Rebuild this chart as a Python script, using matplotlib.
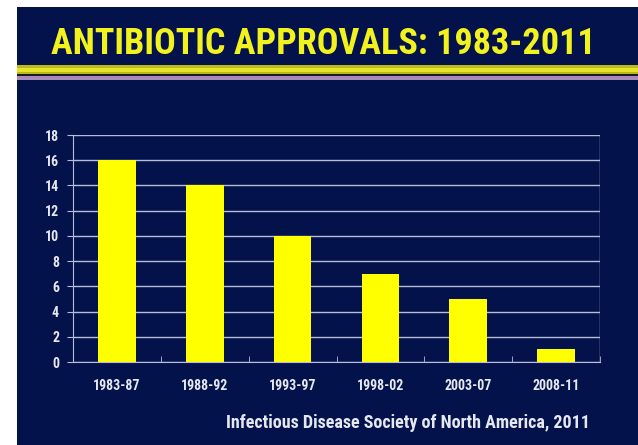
import numpy as np
import matplotlib.pyplot as plt
from matplotlib.patches import Rectangle
from matplotlib import font_manager

periods = ['1983-87', '1988-92', '1993-97', '1998-02', '2003-07', '2008-11']
approvals = [16, 14, 10, 7, 5, 1]
y_ticks = [0, 2, 4, 6, 8, 10, 12, 14, 16, 18]

BG = '#03124a'
GRID = '#b8bcd8'
TEXT = '#e6e8f0'

# pick a bold narrow font if one is around, else plain Liberation Sans
bold_names = {f.name for f in font_manager.fontManager.ttflist if f.weight in (700, 'bold')}
narrow = 'Liberation Sans'
for cand in ['Liberation Sans Narrow', 'Arial Narrow', 'Roboto Condensed', 'Open Sans Condensed',
             'Archivo Narrow', 'Barlow Condensed']:
    if cand in bold_names:
        narrow = cand
        break
is_narrow = narrow != 'Liberation Sans'

fig = plt.figure(figsize=(6.38, 4.45), dpi=100)
fig.patch.set_facecolor('white')
# dark slide background with white margin left/top
fig.patches.append(Rectangle((17 / 638, 0), 1, 1 - 7 / 445, transform=fig.transFigure,
                             facecolor=BG, edgecolor='none', zorder=0))
# yellow stripe and purple line under the title
fig.patches.append(Rectangle((17 / 638, 1 - 74 / 445), 1, 9 / 445, transform=fig.transFigure,
                             facecolor='#bdb91c', edgecolor='none', zorder=1))
fig.patches.append(Rectangle((17 / 638, 1 - 72 / 445), 1, 4 / 445, transform=fig.transFigure,
                             facecolor='#e4e42c', edgecolor='none', zorder=1))
fig.patches.append(Rectangle((17 / 638, 1 - 76 / 445), 1, 2 / 445, transform=fig.transFigure,
                             facecolor='#1a1a20', edgecolor='none', zorder=1))
fig.patches.append(Rectangle((17 / 638, 1 - 80 / 445), 1, 4 / 445, transform=fig.transFigure,
                             facecolor='#a98ab8', edgecolor='none', zorder=1))

fig.text(0.507, 1 - 44 / 445, 'ANTIBIOTIC APPROVALS: 1983-2011', ha='center', va='center',
         color='#f2f21e', fontsize=26 if is_narrow else 23, fontweight='bold', family=narrow)

ax = fig.add_axes([73 / 638, 83 / 445, 527 / 638, 227 / 445])
ax.set_zorder(5)
ax.set_facecolor(BG)
x = np.arange(len(periods))
ax.bar(x, approvals, width=0.43, color='#ffff00', zorder=3)
ax.set_xlim(-0.5, len(periods) - 0.5)
ax.set_ylim(0, 18)
ax.set_yticks(y_ticks)
ax.set_xticks(x)
ax.set_xticklabels(periods)
ax.set_xticks(np.arange(len(periods) + 1) - 0.5, minor=True)
ax.tick_params(axis='x', which='major', length=0, pad=12)
ax.tick_params(axis='x', which='minor', length=4, color=GRID, direction='in')
ax.tick_params(axis='y', length=4, color=GRID, pad=6)
for lab in ax.get_xticklabels() + ax.get_yticklabels():
    lab.set_color(TEXT)
    lab.set_fontsize(10 if is_narrow else 9)
    lab.set_fontweight('bold')
    lab.set_family(narrow)
ax.grid(axis='y', color=GRID, linewidth=1, zorder=1)
ax.spines['top'].set_visible(False)
ax.spines['right'].set_visible(False)
for side in ['left', 'bottom']:
    ax.spines[side].set_color(GRID)
ax.axvline(len(periods) - 0.5, color=GRID, linewidth=1, zorder=2)

fig.text(590 / 638, 1 - 423 / 445, 'Infectious Disease Society of North America, 2011',
         ha='right', va='center', color=TEXT, fontsize=13 if is_narrow else 10.5,
         fontweight='bold', family=narrow)

fig.savefig('out.png', dpi=100, facecolor=fig.get_facecolor())
